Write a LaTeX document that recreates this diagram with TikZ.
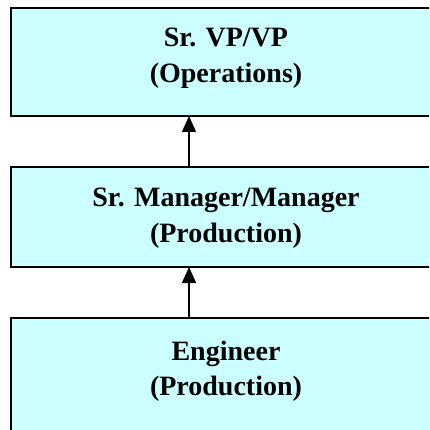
\documentclass[tikz,border=0pt]{standalone}
\usepackage{fontspec}
\setmainfont{Liberation Serif}
\usetikzlibrary{arrows.meta}
\definecolor{boxfill}{RGB}{204,255,255}
\tikzset{
  orgbox/.style={draw=black, fill=boxfill, line width=2pt, minimum width=430pt, inner sep=0pt, outer sep=0pt},
  lbl/.style={font=\fontsize{28pt}{36pt}\selectfont\bfseries, inner sep=0pt, anchor=base},
  conn/.style={line width=1.5pt, -{Triangle[width=14pt,length=16pt]}}
}
\begin{document}
\begin{tikzpicture}[x=1pt,y=-1pt]
\useasboundingbox (0,0) rectangle (429,430);
\clip (0,0) rectangle (429,430);
\node[orgbox, minimum height=108pt] (top) at (226,62) {};
\node[orgbox, minimum height=100pt] (mid) at (226,217) {};
\node[orgbox, minimum height=130pt] (bot) at (226,383) {};
\node[lbl] (t1) at (226,47) {Sr. VP/VP};
\node[lbl] (t2) at (226,83) {(Operations)};
\node[lbl] (m1) at (226,206) {Sr. Manager/Manager};
\node[lbl] (m2) at (226,242) {(Production)};
\node[lbl] (b1) at (226,360) {Engineer};
\node[lbl] (b2) at (226,395) {(Production)};
\coordinate (a1s) at (189,167);
\coordinate (a1e) at (189,116);
\coordinate (a2s) at (189,318);
\coordinate (a2e) at (189,267);
\draw[conn] (mid.north -| a1s) -- (top.south -| a1e);
\draw[conn] (bot.north -| a2s) -- (mid.south -| a2e);
\end{tikzpicture}
\end{document}
